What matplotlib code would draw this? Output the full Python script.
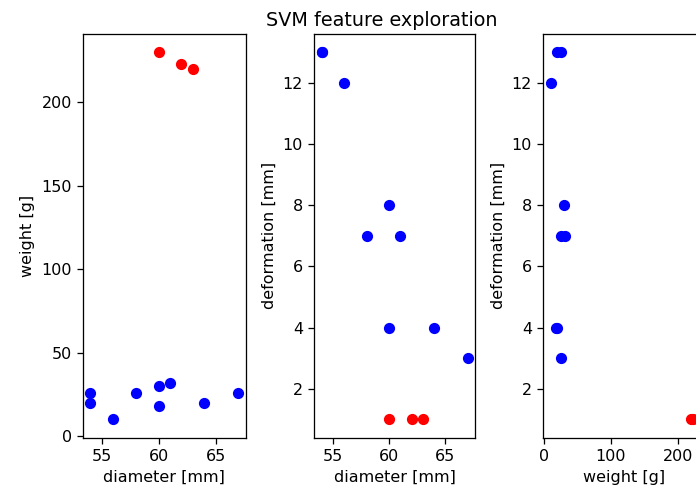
import matplotlib
matplotlib.use("Agg")
import matplotlib.pyplot as plt
import numpy as np

# good (blue) samples
diam_good = [54, 54, 56, 58, 60, 60, 61, 64, 67]
weight_good = [26, 20, 10, 26, 30, 18, 32, 20, 26]
deform_good = [13, 13, 12, 7, 8, 4, 7, 4, 3]
# bad (red) samples
diam_bad = [60, 62, 63]
weight_bad = [230, 223, 220]
deform_bad = [1, 1, 1]

W, H = 696, 491
DPI = 115
fig = plt.figure(figsize=(W / DPI, H / DPI), dpi=DPI)

def ax_at(left, right, top=34.0, bottom=437.7):
    return fig.add_axes([left / W, (H - bottom) / H, (right - left) / W, (bottom - top) / H])

ax1 = ax_at(83.0, 245.7)
ax2 = ax_at(314.3, 475.3)
ax3 = ax_at(543.3, 705.0)

ax1.scatter(diam_good, weight_good, c="blue")
ax1.scatter(diam_bad, weight_bad, c="red")
ax1.set_xlabel("diameter [mm]")
ax1.set_ylabel("weight [g]")

ax2.scatter(diam_good, deform_good, c="blue")
ax2.scatter(diam_bad, deform_bad, c="red")
ax2.set_xlabel("diameter [mm]")
ax2.set_ylabel("deformation [mm]")

ax3.scatter(weight_good, deform_good, c="blue")
ax3.scatter(weight_bad, deform_bad, c="red")
ax3.set_xlabel("weight [g]")
ax3.set_ylabel("deformation [mm]")

fig.text(382 / W, 1 - 20 / H, "SVM feature exploration", ha="center", va="center", fontsize=12)

fig.savefig("out.png", dpi=DPI)
